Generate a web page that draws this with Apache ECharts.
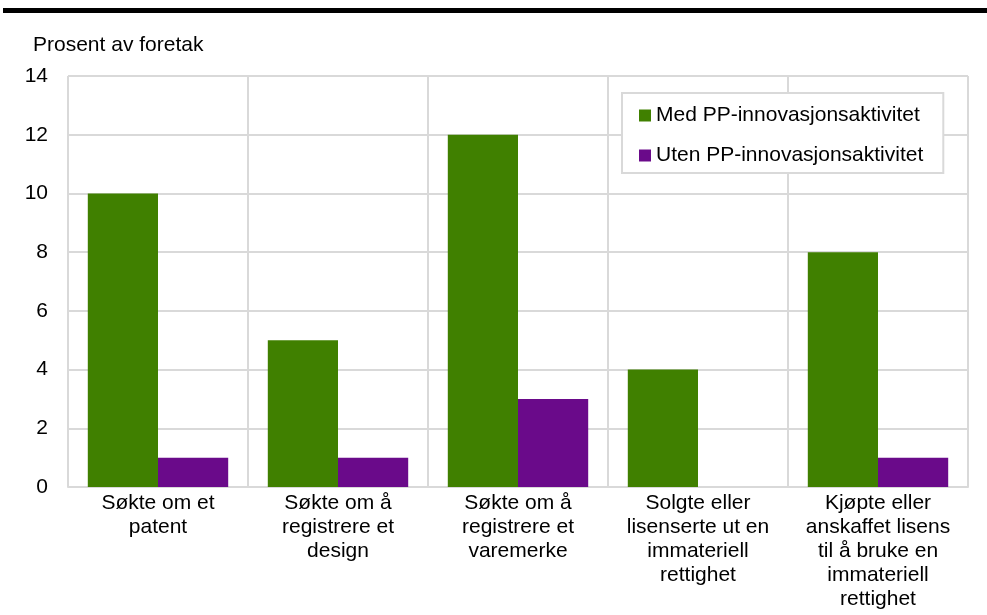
<!DOCTYPE html>
<html>
<head>
<meta charset="utf-8">
<script src="https://cdn.jsdelivr.net/npm/echarts@6/dist/echarts.min.js"></script>
<style>
  html, body { margin: 0; padding: 0; background: #fff; }
  #main { width: 987px; height: 615px; }
</style>
</head>
<body>
<div id="main"></div>
<script>
// data
var categories = [
    'Søkte om et\npatent',
    'Søkte om å\nregistrere et\ndesign',
    'Søkte om å\nregistrere et\nvaremerke',
    'Solgte eller\nlisenserte ut en\nimmateriell\nrettighet',
    'Kjøpte eller\nanskaffet lisens\ntil å bruke en\nimmateriell\nrettighet'
];
var seriesNames = ['Med PP-innovasjonsaktivitet', 'Uten PP-innovasjonsaktivitet'];
var medValues = [10, 5, 12, 4, 8];
var utenValues = [1, 1, 3, 0, 1];
var yTicks = [0, 14, 2]; // min, max, interval

var font = 'Arial, "Liberation Sans", sans-serif';
var myChart = echarts.init(document.getElementById('main'));
var option = {
    animation: false,
    textStyle: { fontFamily: font },
    graphic: [
        {
            type: 'rect',
            shape: { x: 3, y: 8, width: 984, height: 5 },
            style: { fill: '#000' }
        },
        {
            type: 'text',
            left: 33, top: 35,
            style: { text: 'Prosent av foretak', fontSize: 21, fill: '#000', fontFamily: font }
        }
    ],
    legend: {
        orient: 'vertical',
        left: 622,
        top: 93,
        padding: [12, 20, 7, 17],
        itemGap: 19,
        itemWidth: 12,
        itemHeight: 12,
        backgroundColor: '#fff',
        borderColor: '#d9d9d9',
        borderWidth: 2,
        borderRadius: 0,
        textStyle: { fontSize: 21, color: '#000', fontFamily: font },
        data: [
            { name: seriesNames[0], icon: 'rect' },
            { name: seriesNames[1], icon: 'rect' }
        ]
    },
    grid: { left: 68, right: 19, top: 76, bottom: 128 },
    xAxis: {
        type: 'category',
        data: categories,
        axisTick: { show: false },
        axisLine: { lineStyle: { color: '#d9d9d9', width: 2 } },
        splitLine: { show: true, lineStyle: { color: '#d9d9d9', width: 2 } },
        axisLabel: { fontSize: 21, color: '#000', lineHeight: 24, margin: 4, interval: 0, fontFamily: font }
    },
    yAxis: {
        type: 'value',
        min: yTicks[0],
        max: yTicks[1],
        interval: yTicks[2],
        axisLine: { show: false },
        axisTick: { show: false },
        splitLine: { lineStyle: { color: '#d9d9d9', width: 2 } },
        axisLabel: { fontSize: 21, color: '#000', margin: 20, fontFamily: font }
    },
    series: [
        {
            name: seriesNames[0],
            type: 'bar',
            data: medValues,
            barGap: '0%',
            barCategoryGap: '22%',
            itemStyle: { color: '#408000' }
        },
        {
            name: seriesNames[1],
            type: 'bar',
            data: utenValues,
            itemStyle: { color: '#6a0a8a' }
        }
    ]
};
myChart.setOption(option);
</script>
</body>
</html>
